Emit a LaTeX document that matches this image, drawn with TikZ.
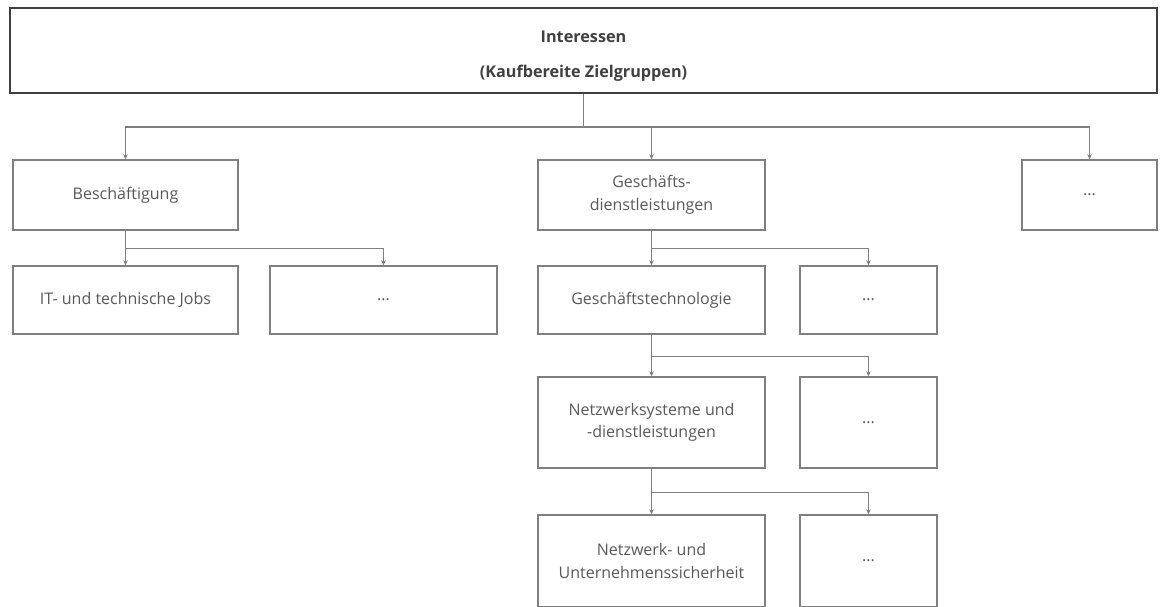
\documentclass[tikz,border=0pt]{standalone}
\usepackage{fontspec}
\setmainfont{Open Sans}
\usetikzlibrary{arrows.meta}
\definecolor{linegray}{HTML}{7F7F7F}
\definecolor{txtgray}{HTML}{595959}
\definecolor{topgray}{HTML}{404040}
\tikzset{
  box/.style={draw=linegray, line width=1.4pt, fill=white, text=txtgray, align=center,
    inner sep=0pt, font=\fontsize{16}{22.5}\selectfont},
  topbox/.style={draw=topgray, line width=2pt, fill=white, inner sep=0pt},
  toplabel/.style={text=topgray, align=center, inner sep=0pt, font=\bfseries\fontsize{16.2}{35}\selectfont},
  conn/.style={draw=linegray, line width=1.2pt, -{Stealth[length=5pt,width=4.5pt]}}
}
\begin{document}
\begin{tikzpicture}[x=1pt,y=-1pt]
\useasboundingbox (0,0) rectangle (1160,607);
\fill[white] (0,0) rectangle (1160,607);
\node[topbox, minimum width=1147pt, minimum height=85pt] (top) at (583.5,50.5) {};
\node[toplabel] (toptext) at (583.5,56) {Interessen\\(Kaufbereite Zielgruppen)};
% level 1
\node[box, minimum width=225pt, minimum height=70pt] (besch) at (125.5,195) {Beschäftigung};
\node[box, minimum width=227pt, minimum height=70pt] (gdl) at (651.5,195) {Geschäfts-\\dienstleistungen};
\node[box, minimum width=135pt, minimum height=70pt] (dots1) at (1089.5,195) {...};
% level 2
\node[box, minimum width=225pt, minimum height=68pt] (itjobs) at (125.5,300) {IT- und technische Jobs};
\node[box, minimum width=227pt, minimum height=68pt] (dots2) at (383.5,300) {...};
\node[box, minimum width=227pt, minimum height=68pt] (gtech) at (651.5,300) {Geschäftstechnologie};
\node[box, minimum width=137pt, minimum height=68pt] (dots3) at (868.5,300) {...};
% level 3
\node[box, minimum width=227pt, minimum height=91pt] (netz) at (651.5,422.5) {Netzwerksysteme und\\-dienstleistungen};
\node[box, minimum width=137pt, minimum height=91pt] (dots4) at (868.5,422.5) {...};
% level 4
\node[box, minimum width=227pt, minimum height=92pt] (sich) at (651.5,561) {Netzwerk- und\\Unternehmenssicherheit};
\node[box, minimum width=137pt, minimum height=92pt] (dots5) at (868.5,561) {...};
% connectors
\draw[conn] (top.south) -- ++(0,33) -| (besch.north);
\draw[conn] (top.south) -- ++(0,33) -| (gdl.north);
\draw[conn] (top.south) -- ++(0,33) -| (dots1.north);
\draw[conn] (besch.south) -- (itjobs.north);
\draw[conn] (besch.south) -- ++(0,18) -| (dots2.north);
\draw[conn] (gdl.south) -- (gtech.north);
\draw[conn] (gdl.south) -- ++(0,18) -| (dots3.north);
\draw[conn] (gtech.south) -- (netz.north);
\draw[conn] (gtech.south) -- ++(0,22) -| (dots4.north);
\draw[conn] (netz.south) -- (sich.north);
\draw[conn] (netz.south) -- ++(0,24) -| (dots5.north);
\end{tikzpicture}
\end{document}
